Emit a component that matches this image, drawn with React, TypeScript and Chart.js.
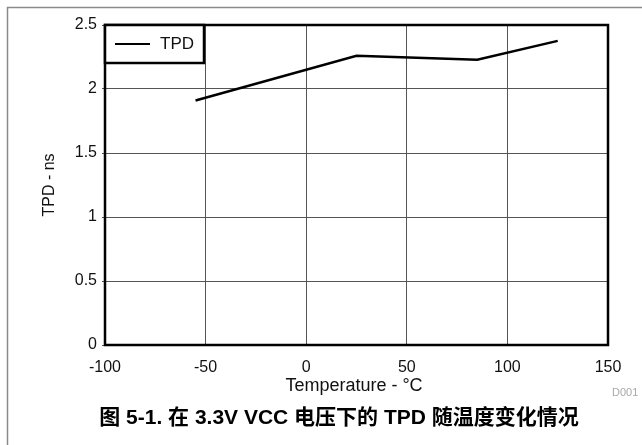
import { useEffect, useRef } from "react";
import { Chart, registerables } from "chart.js";

Chart.register(...registerables);

const temperatures = [-55, 25, 85, 125];
const tpdValues = [1.91, 2.26, 2.228, 2.376];
const seriesLabel = "TPD";
const xTitle = "Temperature - °C";
const yTitle = "TPD - ns";
const caption = "图 5-1. 在 3.3V VCC 电压下的 TPD 随温度变化情况";
const codeLabel = "D001";

const FONT = "'Liberation Sans', Arial, Helvetica, 'Noto Sans CJK SC', sans-serif";

export default function App() {
  const ref = useRef<HTMLCanvasElement | null>(null);

  useEffect(() => {
    if (!ref.current) return;
    const decor = {
      id: "decor",
      beforeDraw(chart: any) {
        const ctx = chart.ctx;
        ctx.save();
        ctx.strokeStyle = "#8a8a8a";
        ctx.lineWidth = 1.5;
        ctx.strokeRect(7.5, 7.5, 700, 500);
        ctx.restore();
      },
      afterDraw(chart: any) {
        const ctx = chart.ctx;
        const a = chart.chartArea;
        ctx.save();
        // plot frame
        ctx.strokeStyle = "#000";
        ctx.lineWidth = 2.5;
        ctx.strokeRect(a.left, a.top, a.right - a.left, a.bottom - a.top);
        // legend box
        const lx = a.left, ly = a.top, lw = 99, lh = 38;
        ctx.fillStyle = "#fff";
        ctx.fillRect(lx, ly, lw, lh);
        ctx.strokeRect(lx, ly, lw, lh);
        ctx.lineWidth = 2;
        ctx.beginPath();
        ctx.moveTo(lx + 10, ly + 19);
        ctx.lineTo(lx + 45, ly + 19);
        ctx.stroke();
        ctx.fillStyle = "#111";
        ctx.font = "17px " + FONT;
        ctx.textBaseline = "middle";
        ctx.textAlign = "left";
        ctx.fillText(seriesLabel, lx + 55, ly + 19);
        // axis titles
        ctx.font = "18px " + FONT;
        ctx.textAlign = "center";
        ctx.fillText(xTitle, 354, a.bottom + 41);
        ctx.save();
        ctx.translate(50, 185);
        ctx.rotate(-Math.PI / 2);
        ctx.font = "16px " + FONT;
        ctx.fillText(yTitle, 0, 0);
        ctx.restore();
        // code label
        ctx.fillStyle = "#a8a8a8";
        ctx.font = "11px " + FONT;
        ctx.textAlign = "left";
        ctx.fillText(codeLabel, 612, a.bottom + 48);
        // caption
        ctx.fillStyle = "#000";
        ctx.font = "bold 21px " + FONT;
        ctx.textAlign = "center";
        ctx.fillText(caption, 339, 418);
        ctx.restore();
      },
    };

    const chart = new Chart(ref.current, {
      type: "line",
      data: {
        datasets: [
          {
            label: seriesLabel,
            data: temperatures.map((t, i) => ({ x: t, y: tpdValues[i] })),
            borderColor: "#000",
            borderWidth: 2.5,
            pointRadius: 0,
            tension: 0,
            fill: false,
          },
        ],
      },
      options: {
        animation: false,
        responsive: false,
        devicePixelRatio: 1,
        layout: { padding: { left: 0, top: 25, right: 34, bottom: 0 } },
        plugins: { legend: { display: false }, tooltip: { enabled: false } },
        scales: {
          x: {
            type: "linear",
            min: -100,
            max: 150,
            ticks: { stepSize: 50, color: "#111", font: { size: 16, family: FONT }, padding: 13, maxRotation: 0 },
            grid: { color: "#555", lineWidth: 1, drawTicks: false },
            border: { display: false },
            afterFit: (s: any) => { s.height = 100; },
          },
          y: {
            type: "linear",
            min: 0,
            max: 2.5,
            ticks: {
              stepSize: 0.5,
              color: "#111",
              font: { size: 16, family: FONT },
              padding: 5,
              callback: (v: any) => String(Number(v)),
            },
            grid: { color: "#555", lineWidth: 1, drawTicks: true, tickLength: 3 },
            border: { display: false },
            afterFit: (s: any) => { s.width = 105; },
          },
        },
      },
      plugins: [decor],
    });
    return () => chart.destroy();
  }, []);

  return (
    <div style={{ position: "fixed", left: 0, top: 0, width: 642, height: 445, background: "#fff" }}>
      <canvas ref={ref} width={642} height={445} style={{ width: 642, height: 445, display: "block" }} />
    </div>
  );
}
